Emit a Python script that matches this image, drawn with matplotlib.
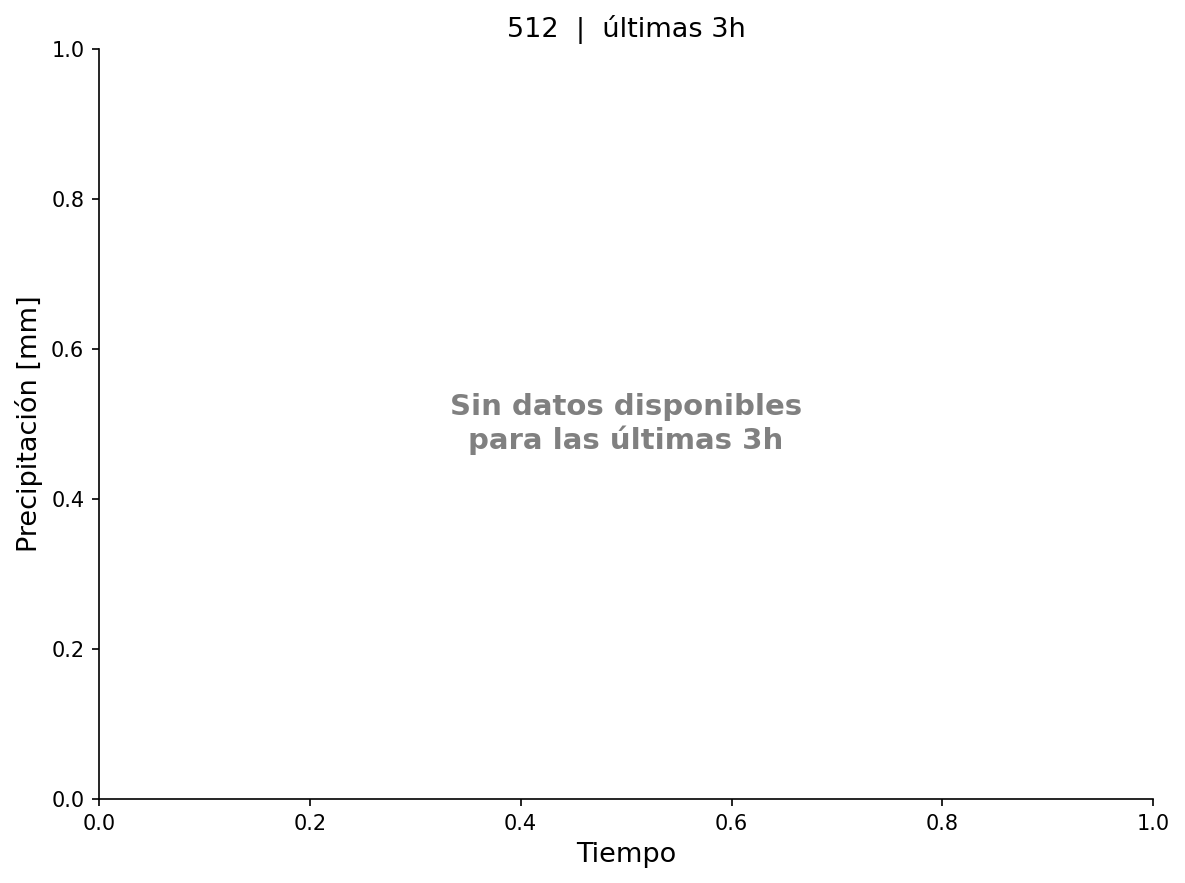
# Empty precipitation panel: no data for the last 3h

import matplotlib
matplotlib.use('Agg')
import matplotlib.pyplot as plt

# --- Labels / text ---
station_id = '512'
window_label = 'últimas 3h'
title_text = f'{station_id}  |  {window_label}'
xlabel_text = 'Tiempo'
ylabel_text = 'Precipitación [mm]'
no_data_text = f'Sin datos disponibles\npara las {window_label}'

# --- Figure ---
fig = plt.figure(figsize=(7.9, 5.8867), dpi=150)
ax = fig.add_axes([0.0835, 0.0950, 0.8897, 0.8494])

ax.set_xlim(0, 1)
ax.set_ylim(0, 1)

ax.text(0.5, 0.5, no_data_text, transform=ax.transAxes,
        ha='center', va='center', fontsize=14, fontweight='bold', color='gray')

ax.set_title(title_text, fontsize=13)
ax.set_xlabel(xlabel_text, fontsize=13)
ax.set_ylabel(ylabel_text, fontsize=13)
ax.tick_params(labelsize=10)

ax.spines['top'].set_visible(False)
ax.spines['right'].set_visible(False)

plt.savefig('out.png', dpi=150)
